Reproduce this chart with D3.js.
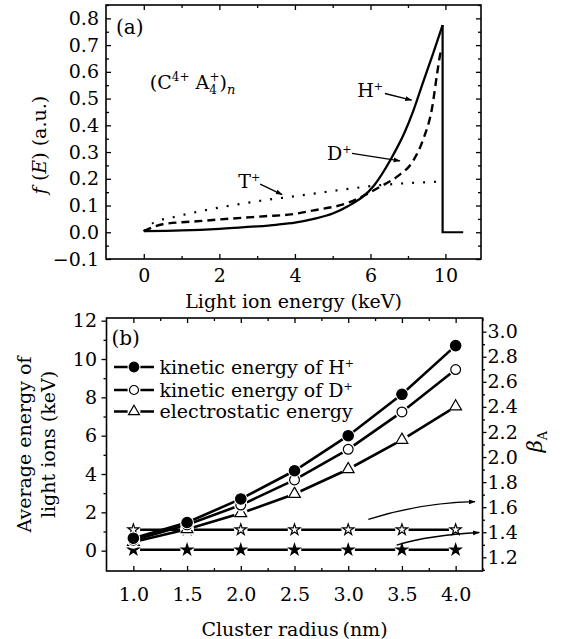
<!DOCTYPE html>
<html>
<head>
<meta charset="utf-8">
<script src="https://cdn.jsdelivr.net/npm/d3@7"></script>
<style>
body { margin: 0; background: #fff; }
svg { display: block; }
text { font-family: "DejaVu Serif", serif; fill: #000; }
</style>
</head>
<body>
<svg id="plot" width="562" height="639"></svg>
<script>
// ---- panel (a): energy spectra f(E) ----
const hE = [0, 1, 2, 3, 3.5, 4, 4.5, 5, 5.4, 6.2, 7.1, 7.8, 8.3, 8.8, 9.35, 9.85]
const hF = [0.004, 0.007, 0.013, 0.022, 0.028, 0.036, 0.05, 0.07, 0.097, 0.176, 0.275, 0.37, 0.457, 0.56, 0.67, 0.775]
const dE = [0, 0.5, 1.4, 2.3, 3.2, 3.9, 4.5, 5.4, 5.8, 6.5, 7.4, 8.3, 8.8, 9.3, 9.55, 9.72, 9.82]
const dF = [0.004, 0.03, 0.041, 0.051, 0.06, 0.067, 0.082, 0.11, 0.135, 0.17, 0.207, 0.27, 0.345, 0.47, 0.59, 0.665, 0.69]
const tE = [0, 0.25, 0.8, 1.4, 2.3, 3.2, 4, 5.4, 6.5, 8, 9.3, 9.7]
const tF = [0.004, 0.035, 0.057, 0.076, 0.1, 0.12, 0.135, 0.162, 0.176, 0.184, 0.188, 0.19]
const tailE = 10.95
const xTicksA = [0, 2, 4, 6, 10]
const xMinorA = [1, 3, 5, 8]
const yTicksA = [-0.1, 0, 0.1, 0.2, 0.3, 0.4, 0.5, 0.6, 0.7, 0.8]

// ---- panel (b): average energies vs cluster radius ----
const radius = [1.0, 1.5, 2.0, 2.5, 3.0, 3.5, 4.0]
const keH = [0.65, 1.47, 2.7, 4.17, 6.0, 8.16, 10.7]
const keD = [0.55, 1.35, 2.38, 3.69, 5.29, 7.24, 9.45]
const elec = [0.45, 1.12, 1.95, 2.96, 4.25, 5.78, 7.52]
const betaOpen = [1.42, 1.42, 1.42, 1.42, 1.42, 1.42, 1.42]
const betaFilled = [1.26, 1.26, 1.26, 1.26, 1.26, 1.26, 1.26]
const xTicksB = [1.0, 1.5, 2.0, 2.5, 3.0, 3.5, 4.0]
const yTicksB = [0, 2, 4, 6, 8, 10, 12]
const yTicksB2 = [1.2, 1.4, 1.6, 1.8, 2.0, 2.2, 2.4, 2.6, 2.8, 3.0]
const legendLabels = ["kinetic energy of H", "kinetic energy of D", "electrostatic energy"]

const svg = d3.select("#plot")
const font = "DejaVu Serif"
const fs = 19

const A = { left: 106, right: 481, top: 5, bottom: 259 }
const B = { left: 106.5, right: 482.5, top: 318, bottom: 571 }

// the printed x axis of (a) is not uniform: 6 -> 10 takes one 2-unit step
const xa = d3.scaleLinear().domain([-1, 6, 11.9]).range([A.left, 370.5, A.right])
const ya = d3.scaleLinear().domain([-0.1, 0.85]).range([A.bottom, A.top])

const xb = d3.scaleLinear().domain([0.75, 4.25]).range([B.left, B.right])
const yb = d3.scaleLinear().domain([-1.06, 12.14]).range([B.bottom, B.top])
const yb2 = d3.scaleLinear().domain([1.091, 3.109]).range([B.bottom, B.top])

function styleAxis(g) {
    g.attr("font-family", font).attr("font-size", fs)
    g.select(".domain").remove()
    g.selectAll(".tick line").attr("stroke-width", 1.3)
}

// ---------- panel (a) ----------
const ga = svg.append("g")

ga.append("g")
    .attr("transform", `translate(0,${A.bottom})`)
    .call(d3.axisBottom(xa).tickValues(xTicksA).tickSize(-5).tickPadding(10))
    .call(styleAxis)
ga.append("g")
    .attr("transform", `translate(0,${A.bottom})`)
    .call(d3.axisBottom(xa).tickValues(xMinorA).tickSize(-3).tickFormat(""))
    .call(styleAxis)
ga.append("g")
    .attr("transform", `translate(0,${A.top})`)
    .call(d3.axisTop(xa).tickValues(xTicksA).tickSize(-5).tickFormat(""))
    .call(styleAxis)
ga.append("g")
    .attr("transform", `translate(0,${A.top})`)
    .call(d3.axisTop(xa).tickValues(xMinorA).tickSize(-3).tickFormat(""))
    .call(styleAxis)

ga.append("g")
    .attr("transform", `translate(${A.left},0)`)
    .call(d3.axisLeft(ya).tickValues(yTicksA).tickSize(-5).tickPadding(7).tickFormat(d3.format(".1f")))
    .call(styleAxis)
ga.append("g")
    .attr("transform", `translate(${A.left},0)`)
    .call(d3.axisLeft(ya).tickValues(yTicksA.map(d => d + 0.05)).tickSize(-3).tickFormat(""))
    .call(styleAxis)
ga.append("g")
    .attr("transform", `translate(${A.right},0)`)
    .call(d3.axisRight(ya).tickValues(yTicksA).tickSize(-5).tickFormat(""))
    .call(styleAxis)
ga.append("g")
    .attr("transform", `translate(${A.right},0)`)
    .call(d3.axisRight(ya).tickValues(yTicksA.map(d => d + 0.05)).tickSize(-3).tickFormat(""))
    .call(styleAxis)

ga.append("rect")
    .attr("x", A.left).attr("y", A.top)
    .attr("width", A.right - A.left).attr("height", A.bottom - A.top)
    .attr("fill", "none").attr("stroke", "#000").attr("stroke-width", 1.6)

const lineA = d3.line()
    .x(d => xa(d[0]))
    .y(d => ya(d[1]))
    .curve(d3.curveMonotoneX)

ga.append("path")
    .datum(tE.map((e, i) => [e, tF[i]]))
    .attr("fill", "none").attr("stroke", "#000")
    .attr("stroke-width", 2.2).attr("stroke-dasharray", "2,9")
    .attr("d", lineA)

ga.append("path")
    .datum(dE.map((e, i) => [e, dF[i]]))
    .attr("fill", "none").attr("stroke", "#000")
    .attr("stroke-width", 2.4).attr("stroke-dasharray", "8,5")
    .attr("d", lineA)

ga.append("path")
    .datum(hE.map((e, i) => [e, hF[i]]))
    .attr("fill", "none").attr("stroke", "#000")
    .attr("stroke-width", 2.3).attr("stroke-linejoin", "round")
    .attr("d", lineA)

// cut-off: vertical drop and zero tail
const hLast = hE.length - 1
ga.append("path")
    .datum([[hE[hLast], hF[hLast]], [hE[hLast], 0], [tailE, 0]])
    .attr("fill", "none").attr("stroke", "#000")
    .attr("stroke-width", 2.2)
    .attr("d", d3.line().x(d => xa(d[0])).y(d => ya(d[1])))

// arrow head marker
svg.append("defs").append("marker")
    .attr("id", "head")
    .attr("viewBox", "0 0 10 10")
    .attr("refX", 9).attr("refY", 5)
    .attr("markerWidth", 7).attr("markerHeight", 7)
    .attr("markerUnits", "userSpaceOnUse")
    .attr("orient", "auto")
    .append("path").attr("d", "M0,1.5L10,5L0,8.5Z").attr("fill", "#000")

// labels for curves: [label, textE, textF, arrow from E,F, arrow to E,F]
const curveLabels = [
    ["H", 5.65, 0.506, 6.77, 0.519, 8.19, 0.494],
    ["D", 4.85, 0.27, 5.51, 0.295, 7.57, 0.267],
    ["T", 2.5, 0.164, 3.08, 0.18, 3.66, 0.141]
]
curveLabels.forEach(c => {
    const t = ga.append("text")
        .attr("x", xa(c[1])).attr("y", ya(c[2]))
        .attr("font-size", fs)
    t.append("tspan").text(c[0])
    t.append("tspan").attr("font-size", 11).attr("dy", -7).text("+")
    ga.append("line")
        .attr("x1", xa(c[3])).attr("y1", ya(c[4]))
        .attr("x2", xa(c[5])).attr("y2", ya(c[6]))
        .attr("stroke", "#000").attr("stroke-width", 1.3)
        .attr("marker-end", "url(#head)")
})

// cluster formula (C4+ A4+)n
const cf = ga.append("text")
    .attr("x", xa(0.16)).attr("y", ya(0.536))
    .attr("font-size", fs)
cf.append("tspan").text("(C")
cf.append("tspan").attr("font-size", 12).attr("dy", -8).text("4+")
cf.append("tspan").attr("dy", 8).text(" A")
cf.append("tspan").attr("font-size", 12).attr("dy", 5).text("4")
cf.append("tspan").attr("font-size", 12).attr("dx", -7.5).attr("dy", -13).text("+")
cf.append("tspan").attr("dy", 8).text(")")
cf.append("tspan").attr("font-size", 13).attr("font-style", "italic").attr("dy", 5).text("n")

ga.append("text")
    .attr("x", A.left + 10).attr("y", A.top + 29)
    .attr("font-size", 20).text("(a)")

// axis titles (a)
ga.append("text")
    .attr("x", (A.left + A.right) / 2).attr("y", 308)
    .attr("text-anchor", "middle").attr("font-size", fs)
    .text("Light ion energy (keV)")

const yta = ga.append("text")
    .attr("transform", `translate(46,${(A.top + A.bottom) / 2 + 13}) rotate(-90)`)
    .attr("text-anchor", "middle").attr("font-size", fs)
yta.append("tspan").attr("font-style", "italic").text("f")
yta.append("tspan").text(" (")
yta.append("tspan").attr("font-style", "italic").text("E")
yta.append("tspan").text(") (a.u.)")

// ---------- panel (b) ----------
const gb = svg.append("g")

gb.append("g")
    .attr("transform", `translate(0,${B.bottom})`)
    .call(d3.axisBottom(xb).tickValues(xTicksB).tickSize(-5).tickPadding(16.5).tickFormat(d3.format(".1f")))
    .call(styleAxis)
gb.append("g")
    .attr("transform", `translate(0,${B.bottom})`)
    .call(d3.axisBottom(xb).tickValues(xTicksB.map(d => d + 0.25)).tickSize(-3).tickFormat(""))
    .call(styleAxis)
gb.append("g")
    .attr("transform", `translate(0,${B.top})`)
    .call(d3.axisTop(xb).tickValues(xTicksB).tickSize(-5).tickFormat(""))
    .call(styleAxis)
gb.append("g")
    .attr("transform", `translate(0,${B.top})`)
    .call(d3.axisTop(xb).tickValues(xTicksB.map(d => d + 0.25)).tickSize(-3).tickFormat(""))
    .call(styleAxis)

gb.append("g")
    .attr("transform", `translate(${B.left},0)`)
    .call(d3.axisLeft(yb).tickValues(yTicksB).tickSize(5).tickPadding(4.5))
    .call(styleAxis)
gb.append("g")
    .attr("transform", `translate(${B.left},0)`)
    .call(d3.axisLeft(yb).tickValues(yTicksB.slice(0, -1).map(d => d + 1)).tickSize(3).tickFormat(""))
    .call(styleAxis)

gb.append("g")
    .attr("transform", `translate(${B.right},0)`)
    .call(d3.axisRight(yb2).tickValues(yTicksB2).tickSize(4).tickPadding(1).tickFormat(d3.format(".1f")))
    .call(styleAxis)
gb.append("g")
    .attr("transform", `translate(${B.right},0)`)
    .call(d3.axisRight(yb2).tickValues(yTicksB2.map(d => d - 0.1)).tickSize(2.5).tickFormat(""))
    .call(styleAxis)

gb.append("rect")
    .attr("x", B.left).attr("y", B.top)
    .attr("width", B.right - B.left).attr("height", B.bottom - B.top)
    .attr("fill", "none").attr("stroke", "#000").attr("stroke-width", 1.6)

const seriesB = [
    { values: betaFilled, y: yb2, type: d3.symbolStar, size: 38, fill: "#000" },
    { values: betaOpen, y: yb2, type: d3.symbolStar, size: 38, fill: "#fff" },
    { values: elec, y: yb, type: d3.symbolTriangle, size: 60, fill: "#fff" },
    { values: keD, y: yb, type: d3.symbolCircle, size: 75, fill: "#fff" },
    { values: keH, y: yb, type: d3.symbolCircle, size: 85, fill: "#000" }
]

seriesB.forEach(s => {
    gb.append("path")
        .datum(radius.map((r, i) => [r, s.values[i]]))
        .attr("fill", "none").attr("stroke", "#000").attr("stroke-width", 2.6)
        .attr("d", d3.line().x(d => xb(d[0])).y(d => s.y(d[1])))
})

seriesB.forEach(s => {
    const pts = radius.map((r, i) => [xb(r), s.y(s.values[i])])
    gb.selectAll(null).data(pts).join("circle")
        .attr("cx", d => d[0]).attr("cy", d => d[1])
        .attr("r", 6.8).attr("fill", "#fff")
    gb.selectAll(null).data(pts).join("path")
        .attr("transform", d => `translate(${d[0]},${d[1]})`)
        .attr("d", d3.symbol(s.type, s.size))
        .attr("fill", s.fill).attr("stroke", "#000").attr("stroke-width", 1.2)
})

// arrows pointing to the right axis: [from x,y] [ctrl x,y] [to x,y] in (radius, beta)
const betaArrows = [
    [3.187, 1.503, 3.67, 1.635, 4.18, 1.644],
    [3.451, 1.298, 3.76, 1.378, 4.22, 1.398]
]
betaArrows.forEach(a => {
    const p = d3.path()
    p.moveTo(xb(a[0]), yb2(a[1]))
    p.quadraticCurveTo(xb(a[2]), yb2(a[3]), xb(a[4]), yb2(a[5]))
    gb.append("path")
        .attr("d", p.toString())
        .attr("fill", "none").attr("stroke", "#000").attr("stroke-width", 1.3)
        .attr("marker-end", "url(#head)")
})

// legend
const legendY = [367, 390, 411.5]
const legendSeries = [seriesB[4], seriesB[3], seriesB[2]]
legendSeries.forEach((s, i) => {
    const y = legendY[i]
    gb.append("line")
        .attr("x1", 114).attr("x2", 154).attr("y1", y).attr("y2", y)
        .attr("stroke", "#000").attr("stroke-width", 2.6)
    gb.append("circle").attr("cx", 134).attr("cy", y).attr("r", 6.5).attr("fill", "#fff")
    gb.append("path")
        .attr("transform", `translate(134,${y})`)
        .attr("d", d3.symbol(s.type, s.size * 0.85))
        .attr("fill", s.fill).attr("stroke", "#000").attr("stroke-width", 1.2)
    const t = gb.append("text")
        .attr("x", 159.5).attr("y", y + 6.5).attr("font-size", fs)
    t.append("tspan").text(legendLabels[i])
    if (i < 2) t.append("tspan").attr("font-size", 11).attr("dy", -7).text("+")
})

gb.append("text")
    .attr("x", B.left + 5).attr("y", B.top + 27)
    .attr("font-size", 20).text("(b)")

// axis titles (b)
gb.append("text")
    .attr("x", (B.left + B.right) / 2).attr("y", 636)
    .attr("text-anchor", "middle").attr("font-size", fs)
    .text("Cluster radius\u2009(nm)")

const midB = (B.top + B.bottom) / 2
gb.append("text")
    .attr("transform", `translate(30.5,${midB}) rotate(-90)`)
    .attr("text-anchor", "middle").attr("font-size", fs)
    .text("Average energy of")
gb.append("text")
    .attr("transform", `translate(55,${midB}) rotate(-90)`)
    .attr("text-anchor", "middle").attr("font-size", fs)
    .text("light ions (keV)")

const yt2 = gb.append("text")
    .attr("transform", `translate(542,${midB - 3}) rotate(-90)`)
    .attr("text-anchor", "middle").attr("font-size", 21)
yt2.append("tspan").attr("font-style", "italic").text("β")
yt2.append("tspan").attr("font-size", 13).attr("dy", 5).text("A")
</script>
</body>
</html>
